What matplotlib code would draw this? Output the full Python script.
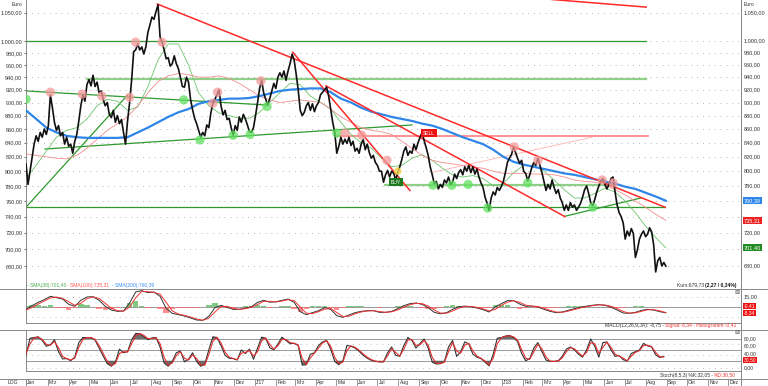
import numpy as np
import pandas as pd
import matplotlib
matplotlib.use('Agg')
import matplotlib.pyplot as plt
from matplotlib.lines import Line2D

plt.rcParams['font.family'] = ['Liberation Sans', 'DejaVu Sans']
fs = 4.0      # tick labels
fs2 = 3.6     # captions

# ---------------- data ----------------
start = '2016-01-29'

# close, every 3 days
price = [810, 782, 800, 818, 838, 850, 842, 855, 848, 860,
         852, 865, 912, 892, 870, 858, 865, 850, 855, 838,
         848, 835, 838, 825, 842, 852, 872, 895, 912, 902,
         928, 936, 926, 943, 925, 932, 915, 918, 905, 895,
         900, 882, 877, 888, 870, 880, 868, 874, 855, 838,
         872, 900, 935, 982, 985, 995, 985, 990, 978, 990,
         1015, 1028, 1042, 1038, 1052, 1064, 1007, 998, 985, 970,
         972, 958, 962, 975, 962, 954, 940, 925, 924, 940,
         932, 905, 889, 876, 868, 858, 848, 855, 850, 866,
         862, 884, 899, 905, 912, 920, 895, 881, 888, 874,
         876, 862, 851, 865, 858, 878, 870, 882, 875, 866,
         856, 855, 862, 880, 900, 922, 935, 915, 905, 896,
         906, 918, 930, 922, 940, 947, 940, 950, 935, 950,
         962, 978, 968, 945, 920, 888, 880, 885, 895, 900,
         888, 898, 886, 895, 900, 912, 916, 920, 924, 910,
         890, 870, 855, 825, 835, 848, 838, 845, 839, 848,
         836, 842, 828, 832, 825, 838, 845, 830, 838, 826,
         818, 822, 812, 808, 800, 800, 785, 795, 801, 792,
         800, 797, 788, 798, 806, 816, 828, 834, 822, 828,
         825, 838, 830, 840, 848, 855, 843, 833, 822, 806,
         795, 783, 786, 776, 782, 778, 788, 784, 792, 782,
         785, 796, 790, 798, 802, 795, 806, 800, 808, 798,
         806, 796, 803, 792, 784, 778, 765, 757, 748, 764,
         772, 768, 778, 774, 779, 786, 798, 812, 818, 823,
         834, 826, 818, 811, 815, 800, 797, 787, 795, 805,
         812, 808, 818, 808, 798, 786, 774, 782, 776, 788,
         778, 770, 775, 764, 758, 748, 755, 748, 758, 752,
         755, 748, 752, 757, 765, 775, 780, 770, 758, 754,
         762, 772, 780, 786, 790, 782, 776, 782, 790, 792,
         772, 755, 745, 740, 732, 712, 722, 716, 725, 719,
         690, 699, 712, 718, 722, 715, 718, 726, 721, 705,
         673, 686, 690, 680, 684, 679.73]

# moving averages, every 15 days
sma38 = [790, 808, 828, 848, 858, 862, 875, 895, 905, 902,
         888, 893, 925, 968, 995, 995, 960, 915, 895, 884,
         880, 876, 876, 885, 900, 915, 930, 928, 910, 900,
         890, 870, 852, 840, 832, 818, 806, 808, 818, 823,
         815, 804, 795, 792, 794, 790, 780, 783, 798, 808,
         808, 800, 788, 775, 764, 764, 770, 777, 772, 760,
         745, 728, 714, 701.4]
sma100 = [824, 822, 820, 818, 817, 822, 832, 845, 858, 868,
          878, 895, 915, 933, 942, 946, 944, 940, 940, 942,
          938, 930, 920, 910, 904, 900, 902, 904, 902, 900,
          890, 878, 870, 862, 858, 856, 852, 842, 832, 822,
          815, 812, 810, 808, 806, 804, 800, 797, 797, 797,
          796, 796, 795, 792, 788, 786, 785, 782, 775, 768,
          760, 752, 743, 735.31]
sma200 = [888, 875, 862, 855, 850, 848, 847, 847, 847, 847,
          848, 855, 862, 870, 878, 885, 890, 898, 902, 904,
          906, 906, 907, 910, 914, 918, 920, 921, 922, 922,
          916, 906, 900, 892, 886, 882, 878, 875, 872, 868,
          865, 860, 854, 848, 843, 838, 830, 820, 813, 809,
          806, 803, 800, 797, 795, 792, 789, 786, 783, 779,
          776, 771, 766, 760.39]

# MACD(12,26,9) and signal, every 9 days
macd = [-3.5, 2, 7, 11, 16, 14, 12, 4, 1, 10,
        15, 15.5, 10, 1, -4.5, -6.5, -6, 6, 22.5, 24.5,
        21.5, 22.5, 16, -2, -9.5, -11.5, -13.5, -16.5, -19.5, -20,
        -14, -1, 2.5, -0.5, -3.5, -3.5, -1.5, 0.5, 7, 10,
        7.2, 7.8, 10, 12, 7, -7, -11.5, -8.5, -5.5, -1,
        -3.5, -13, -15.5, -12, -8.5, -6.5, -5.5, -5.5, -8, -8,
        -6.5, -2.5, 2, 5, 6, 4, -1, -8, -10.2, -8.5,
        -3.5, 0.3, 1.3, 0.5, -1.5, -4, -7.5, 0, 5, 9.5,
        9.5, 4.5, 1, 1.5, 0, -3.5, -6.5, -8.5, -7.5, -5,
        -2.5, -0.3, 1.3, 2.7, 3.6, 2.5, -0.3, -4.5, -9, -9.5,
        -8, -5, -3.5, -4.5, -7, -8.75]
signal = [-4.5, -0.8, 4.5, 9, 13.5, 15, 13, 8, 2.5, 5.5,
          12.5, 15.2, 12.8, 5.5, -1.8, -5.5, -6.2, 0, 14, 23.5,
          23, 22, 19.2, 7, -5.8, -10.5, -12.5, -15, -18, -19.8,
          -17, -7.5, 0.7, 1, -2, -3.5, -2.5, -0.5, 3.8, 8.5,
          8.6, 7.5, 8.9, 11, 9.5, 0, -9.2, -10, -7, -3.2,
          -2.2, -8.2, -14.2, -13.8, -10.2, -7.5, -6, -5.5, -6.8, -8,
          -7.2, -4.5, -0.2, 3.5, 5.5, 5, 1.5, -4.5, -9.1, -9.3,
          -6, -1.6, 0.8, 0.9, -0.5, -2.8, -5.8, -3.7, 2.5, 7.2,
          9.5, 7, 2.8, 1.2, 0.8, -1.8, -5, -7.5, -8, -6.2,
          -3.8, -1.4, 0.5, 2, 3.2, 3, 1.1, -2.4, -6.8, -9.2,
          -8.8, -6.5, -4.2, -4, -5.8, -8.34]

# Stochastic(8,5,3) %K / %D, every 6 days
stoch_k = [36, 82, 84, 86, 76, 60, 64, 78, 45, 25,
           26, 20, 30, 70, 84, 84, 84, 77, 55, 33,
           12, 5, 16, 52, 42, 45, 78, 95, 95, 87,
           78, 83, 84, 58, 14, 5, 18, 42, 47, 17,
           24, 42, 18, 5, 10, 50, 86, 84, 62, 35,
           27, 26, 22, 50, 40, 52, 24, 55, 85, 82,
           56, 50, 66, 85, 76, 67, 68, 62, 8, 9,
           38, 42, 62, 72, 76, 52, 18, 9, 20, 62,
           60, 55, 46, 35, 27, 21, 18, 17, 17, 42,
           58, 35, 32, 62, 84, 76, 55, 68, 80, 55,
           16, 11, 12, 18, 58, 76, 32, 45, 72, 66,
           38, 30, 26, 16, 6, 38, 82, 84, 88, 90,
           84, 73, 40, 20, 26, 55, 70, 45, 22, 18,
           18, 20, 32, 52, 58, 50, 38, 30, 50, 80,
           60, 30, 70, 72, 50, 32, 34, 23, 19, 40,
           45, 50, 68, 61, 58, 36, 29, 32.05]
stoch_d = [40, 67, 83, 85, 79, 65, 63, 73, 56, 32,
           26, 22, 27, 57, 79, 84, 84, 79, 62, 40,
           19, 7, 12, 40, 45, 44, 67, 89, 95, 90,
           81, 81, 84, 67, 29, 8, 14, 34, 45, 27,
           22, 36, 26, 9, 8, 37, 74, 85, 69, 44,
           30, 26, 23, 41, 43, 48, 33, 45, 75, 83,
           65, 52, 61, 79, 79, 70, 68, 64, 26, 9,
           28, 41, 55, 69, 75, 60, 29, 12, 16, 48,
           61, 57, 49, 39, 30, 23, 19, 17, 17, 34,
           53, 43, 33, 52, 77, 79, 62, 64, 76, 63,
           29, 13, 12, 16, 45, 70, 47, 41, 63, 68,
           47, 33, 27, 19, 9, 27, 67, 83, 87, 89,
           86, 77, 51, 27, 24, 45, 65, 53, 30, 19,
           18, 19, 28, 45, 56, 53, 42, 33, 43, 70,
           67, 40, 57, 71, 57, 38, 33, 27, 20, 33,
           43, 48, 62, 63, 59, 43, 31, 30.5]

price_ticks = [1050, 1000, 980, 960, 940, 920, 900, 880, 860, 840,
               820, 800, 780, 760, 740, 720, 700, 680]
price_labels = ['1.050,00', '1.000,00', '980,00', '960,00', '940,00', '920,00',
                '900,00', '880,00', '860,00', '840,00', '820,00', '800,00',
                '780,00', '760,00', '740,00', '720,00', '700,00', '680,00']
hidden_right = [760, 740, 700]   # covered by the value boxes

# trend lines drawn by the chart author: (date, price) -> (date, price)
red_lines = [(('2016-08-10', 1065.6), ('2018-08-30', 752)),
             (('2017-02-26', 981), ('2017-08-18', 774)),
             (('2017-04-16', 926), ('2018-04-04', 740)),
             (('2018-03-15', 1074), ('2018-08-02', 1060))]
green_dark = [(('2016-01-29', 1000), ('2018-08-02', 1000)),
              (('2016-01-29', 918), ('2017-01-20', 896)),
              (('2016-01-29', 752), ('2016-06-27', 911.5)),
              (('2016-02-26', 831), ('2017-08-21', 866)),
              (('2016-01-29', 752), ('2018-08-30', 752)),
              (('2018-04-04', 740.5), ('2018-07-25', 764))]
green_light = [(('2016-04-28', 937), ('2018-08-02', 937)),
               (('2017-07-12', 781), ('2018-06-17', 781))]
pink_lines = [(('2017-04-29', 849.5), ('2018-08-04', 849.5))]
pink_thin = [(('2017-09-21', 798.6), ('2018-05-14', 848))]

green_dots = [('2016-01-29', 905), ('2016-09-18', 904), ('2016-10-12', 844),
              ('2016-11-30', 851), ('2016-12-25', 852), ('2017-01-19', 894),
              ('2017-05-02', 854), ('2017-09-21', 781), ('2017-10-19', 781),
              ('2017-11-12', 782), ('2017-12-11', 751), ('2018-02-08', 784),
              ('2018-05-15', 752)]
red_dots = [('2016-03-05', 916), ('2016-04-21', 913), ('2016-05-20', 910),
            ('2016-06-30', 908), ('2016-07-09', 998), ('2016-08-17', 998),
            ('2016-10-31', 899), ('2016-11-07', 916), ('2017-01-10', 934),
            ('2017-05-14', 854), ('2017-06-08', 851), ('2017-07-15', 815),
            ('2018-01-19', 834), ('2018-02-23', 815), ('2018-05-29', 788),
            ('2018-06-14', 784)]

month_names = ['Jan', 'Feb', 'Mrz', 'Apr', 'Mai', 'Jun', 'Jul', 'Aug',
               'Sep', 'Okt', 'Nov', 'Dez']

# ---------------- figure ----------------
price_dates = pd.date_range(start, periods=len(price), freq='3D')
sma_dates = pd.date_range(start, periods=len(sma38), freq='15D')
macd_dates = pd.date_range(start, periods=len(macd), freq='9D')
stoch_dates = pd.date_range(start, periods=len(stoch_k), freq='6D')

W, H = 768, 386
fig = plt.figure(figsize=(W / 100, H / 100), dpi=100)


def box(top, bottom):
    return [26 / W, 1 - bottom / H, 715 / W, (bottom - top) / H]


ax = fig.add_axes(box(0, 289))
axm = fig.add_axes(box(289, 323), sharex=ax)
axs = fig.add_axes(box(330, 371), sharex=ax)
axd = fig.add_axes(box(379, 386), sharex=ax)

xmin, xmax = pd.Timestamp('2016-01-29'), pd.Timestamp('2018-12-20')
ax.set_xlim(xmin, xmax)

for a in (ax, axm, axs, axd):
    a.set_facecolor('white')
    for s in a.spines.values():
        s.set_color('#888888')
        s.set_linewidth(0.7)
    a.spines['top'].set_visible(False)
    a.tick_params(axis='x', bottom=False, labelbottom=False)

# main price pane
ax.set_yscale('log')
ax.set_ylim(653.6, 1073)
ax.set_yticks(price_ticks)
ax.set_yticklabels(price_labels)
ax.minorticks_off()
ax.tick_params(axis='y', which='both', left=True, right=False, labelleft=True,
               labelright=False, labelsize=fs, length=1.5, pad=1.2,
               colors='#333333', width=0.5)
ax.grid(axis='y', linestyle=(0, (1, 6)), color='#9a9a9a', linewidth=0.6)
ytr = ax.get_yaxis_transform()
for val, lab in zip(price_ticks, price_labels):
    if val not in hidden_right:
        ax.text(1.004, val, lab, transform=ytr, fontsize=fs, va='center',
                ha='left', color='#333333', clip_on=False)

for (d0, p0), (d1, p1) in green_light:
    ax.plot(pd.to_datetime([d0, d1]), [p0, p1], color='#8fcf88', lw=1.6, zorder=2)
for (d0, p0), (d1, p1) in green_dark:
    ax.plot(pd.to_datetime([d0, d1]), [p0, p1], color='#2e9a2e', lw=0.9, zorder=2)
for (d0, p0), (d1, p1) in pink_lines:
    ax.plot(pd.to_datetime([d0, d1]), [p0, p1], color='#ff8a8a', lw=1.3, zorder=2)
for (d0, p0), (d1, p1) in pink_thin:
    ax.plot(pd.to_datetime([d0, d1]), [p0, p1], color='#ffb0b0', lw=0.6, zorder=2)
for (d0, p0), (d1, p1) in red_lines:
    ax.plot(pd.to_datetime([d0, d1]), [p0, p1], color='#ff2a2a', lw=1.1, zorder=4)

ax.plot(sma_dates, sma38, color='#6cc46c', lw=0.6, zorder=3)
ax.plot(sma_dates, sma100, color='#f28c8c', lw=0.6, zorder=3)
ax.plot(sma_dates, sma200, color='#2f86e8', lw=1.6, zorder=3)
ax.plot(price_dates, price, color='#111111', lw=1.2, zorder=5)

gd = [(pd.Timestamp(d), p) for d, p in green_dots]
rd = [(pd.Timestamp(d), p) for d, p in red_dots]
ax.scatter([d for d, p in gd], [p for d, p in gd], s=45, color='#5fe05f',
           alpha=0.75, edgecolors='none', zorder=6)
ax.scatter([d for d, p in rd], [p for d, p in rd], s=45, color='#f59a9a',
           alpha=0.75, edgecolors='none', zorder=6)
ax.scatter([pd.Timestamp('2017-07-31')], [800], s=30, color='#f2d44a',
           alpha=0.8, edgecolors='none', zorder=6)

ax.text(pd.Timestamp('2017-07-28'), 785, 'BUY', color='white', fontsize=fs2,
        ha='center', va='center', zorder=7,
        bbox=dict(boxstyle='square,pad=0.35', fc='#1f7a1f', ec='none'))
ax.text(pd.Timestamp('2017-09-15'), 854, 'SELL', color='white', fontsize=fs2,
        ha='center', va='center', zorder=7,
        bbox=dict(boxstyle='square,pad=0.35', fc='#ee1111', ec='none'))

for val, txt, col in [(sma200[-1], '760,39', '#2f86e8'),
                      (sma100[-1], '735,31', '#ee2222'),
                      (sma38[-1], '701,40', '#1f8a1f')]:
    ax.text(1.004, val, txt, transform=ytr, color='white', fontsize=fs,
            ha='left', va='center', zorder=8, clip_on=False,
            bbox=dict(boxstyle='square,pad=0.2', fc=col, ec='none'))

# MACD pane
hist = np.array(macd) - np.array(signal)
axm.set_ylim(-24, 27)
axm.bar(macd_dates, np.where(hist > 0, hist, 0), width=8, color='#55b855',
        alpha=0.75, zorder=2)
axm.bar(macd_dates, np.where(hist < 0, hist, 0), width=8, color='#ff6a6a',
        alpha=0.75, zorder=2)
axm.axhline(0, color='#999999', lw=0.7, zorder=1)
axm.axhline(15, color='#aaaaaa', lw=0.6, linestyle=(0, (1, 6)), zorder=1)
axm.axhline(-15, color='#aaaaaa', lw=0.6, linestyle=(0, (1, 6)), zorder=1)
axm.plot(macd_dates, macd, color='#333333', lw=0.7, zorder=3)
axm.plot(macd_dates, signal, color='#ee3333', lw=0.7, zorder=4)
axm.set_yticks([])
ytm = axm.get_yaxis_transform()
axm.text(1.004, 15, '15,00', transform=ytm, fontsize=fs, va='center',
         color='#333333', clip_on=False)
axm.text(1.004, 1.2, '-0,41', transform=ytm, color='white', fontsize=fs2,
         va='center', clip_on=False,
         bbox=dict(boxstyle='square,pad=0.1', fc='#ee1111', ec='none'))
axm.text(1.004, -8.8, '-8,34', transform=ytm, color='white', fontsize=fs2,
         va='center', clip_on=False,
         bbox=dict(boxstyle='square,pad=0.1', fc='#ee1111', ec='none'))

# Stochastic pane
axs.set_ylim(-8.3, 104.8)
for lvl in (80, 50, 20):
    axs.axhline(lvl, color='#999999', lw=0.7, zorder=1)
for lvl in (65, 35, 0):
    axs.axhline(lvl, color='#aaaaaa', lw=0.6, linestyle=(0, (1, 6)), zorder=1)
k = np.array(stoch_k, dtype=float)
axs.fill_between(stoch_dates, 80, k, where=k > 80, interpolate=True,
                 color='#555555', alpha=0.85, lw=0, zorder=2)
axs.fill_between(stoch_dates, 20, k, where=k < 20, interpolate=True,
                 color='#555555', alpha=0.85, lw=0, zorder=2)
axs.plot(stoch_dates, stoch_k, color='#333333', lw=0.8, zorder=3)
axs.plot(stoch_dates, stoch_d, color='#e83030', lw=0.8, zorder=4)
axs.set_yticks([])
yts = axs.get_yaxis_transform()
for val, lab in [(80, '80,00'), (60, '60,00'), (40, '40,00'), (0, '0,00')]:
    axs.text(1.004, val, lab, transform=yts, fontsize=fs2, va='center',
             color='#333333', clip_on=False)
axs.text(1.004, 22, '30,50', transform=yts, color='white', fontsize=fs2,
         va='center', clip_on=False,
         bbox=dict(boxstyle='square,pad=0.1', fc='#ee1111', ec='none'))

# date strip
axd.set_ylim(0, 1)
axd.set_yticks([])
months = pd.date_range('2016-03-01', '2018-12-01', freq='MS')
tick_dates = [xmin] + list(months)
tick_labels = ['Jan'] + [("J'%02d" % (m.year % 100)) if m.month == 1 else month_names[m.month - 1]
                         for m in months]
for d, lab in zip(tick_dates, tick_labels):
    axd.axvline(d, color='#888888', lw=0.6)
    axd.text(d + pd.Timedelta(days=2), 0.45, lab, fontsize=fs2, va='center',
             ha='left', color='#333333')

# separators and captions
for y in (289, 330, 379):
    fig.add_artist(Line2D([0, 1], [1 - y / H, 1 - y / H], color='#888888', lw=0.7))
fig.add_artist(Line2D([741 / W, 741 / W], [0, 1], color='#888888', lw=0.7))

fig.text(8 / W, 1 - 382 / H, 'LOG', fontsize=fs2, va='center', color='#333333')
fig.text(12 / W, 1 - 4 / H, 'Euro', fontsize=fs2, va='center', color='#333333')
fig.text(744 / W, 1 - 4 / H, 'Euro', fontsize=fs2, va='center', color='#333333')

fig.text(27 / W, 1 - 285 / H, '- SMA(38):701,40', fontsize=fs2, va='center', color='#4caf50')
fig.text(67 / W, 1 - 285 / H, '- SMA(100):735,31', fontsize=fs2, va='center', color='#ff5555')
fig.text(112 / W, 1 - 285 / H, '- SMA(200):760,39', fontsize=fs2, va='center', color='#3a8ff0')

fig.text(705 / W, 1 - 285 / H, 'Kurs:679,73 ', fontsize=fs2, va='center', ha='right', color='#333333')
fig.text(705 / W, 1 - 285 / H, '(2,27 / 0,34%)', fontsize=fs2, va='center', ha='left',
         color='#111111', fontweight='bold')

fig.text(665 / W, 1 - 326 / H, 'MACD(12,26,9,JA): -8,75 - ', fontsize=fs2, va='center',
         ha='right', color='#333333')
fig.text(665 / W, 1 - 326 / H, 'Signal:-8,34 - Histogramm:-0,41', fontsize=fs2,
         va='center', ha='left', color='#ee3333')

fig.text(714 / W, 1 - 375 / H, 'Stoch(8,5,3) %K:32,05 - ', fontsize=fs2, va='center',
         ha='right', color='#333333')
fig.text(714 / W, 1 - 375 / H, '%D:30,50', fontsize=fs2, va='center', ha='left',
         color='#ee3333')

for y in (292, 332):
    fig.text(737.5 / W, 1 - y / H, '\u22a0', fontsize=4.5, va='center', ha='center',
             color='#666666', family='DejaVu Sans')

plt.savefig('out.png', dpi=100)
